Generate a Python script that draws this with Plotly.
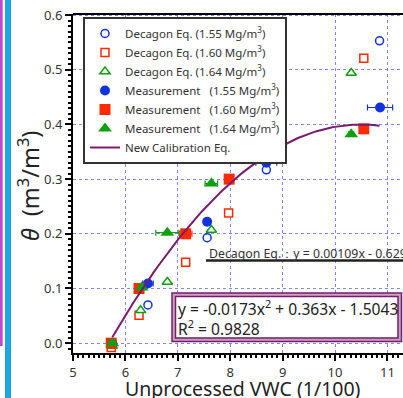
import numpy as np
import plotly.graph_objects as go

# ---------------- data ----------------
density_labels = ["1.55", "1.60", "1.64"]

# Measurement (filled markers)
meas_x_155 = [5.75, 6.43, 7.56, 8.69, 10.86]
meas_y_155 = [0.0, 0.109, 0.222, 0.330, 0.431]
meas_e_155 = [0.05, 0.10, 0.04, 0.20, 0.24]

meas_x_160 = [5.73, 6.26, 7.15, 7.98, 10.55]
meas_y_160 = [0.0, 0.100, 0.200, 0.300, 0.392]
meas_e_160 = [0.05, 0.08, 0.12, 0.08, 0.05]

meas_x_164 = [5.75, 6.31, 6.80, 7.64, 10.31]
meas_y_164 = [0.0, 0.102, 0.202, 0.292, 0.382]
meas_e_164 = [0.05, 0.05, 0.22, 0.12, 0.05]

# Decagon equation (open markers)
dec_x_155 = [5.75, 6.43, 7.56, 8.69, 10.85]
dec_y_155 = [-0.004, 0.070, 0.193, 0.317, 0.553]
dec_x_160 = [5.73, 6.26, 7.15, 7.97, 10.55]
dec_y_160 = [-0.008, 0.051, 0.148, 0.238, 0.521]
dec_x_164 = [5.75, 6.29, 6.80, 7.64, 10.31]
dec_y_164 = [-0.005, 0.060, 0.112, 0.207, 0.494]
dec_err = 0.035

# New calibration equation coefficients (from the chart)
cal_a, cal_b, cal_c = -0.0173, 0.363, -1.5043
cal_x_min, cal_x_max = 5.75, 10.85

x_ticks = [5, 6, 7, 8, 9, 10, 11]
y_ticks = [0.0, 0.1, 0.2, 0.3, 0.4, 0.5, 0.6]

# ---------------- styling ----------------
BLUE = "#1232e0"
RED = "#ff2a00"
GREEN = "#0ea010"
PURPLE = "#7a1a6a"
FONT = "Noto Sans"

W, H = 403, 398
ML, MR, MT, MB = 73, 0, 14, 45
PW, PH = W - ML - MR, H - MT - MB


def px(xpix):
    return (xpix - ML) / PW


def py(ypix):
    return (H - MB - ypix) / PH


fig = go.Figure()


def dec_trace(x, y, color, symbol, size, name):
    return go.Scatter(
        x=x, y=y, mode="markers", name=name,
        marker=dict(symbol=symbol, size=size, color="white",
                    line=dict(color=color, width=1.5)),
        error_x=dict(type="constant", value=dec_err, color=color,
                     thickness=1, width=3),
    )


def meas_trace(x, y, e, color, symbol, size, name):
    return go.Scatter(
        x=x, y=y, mode="markers", name=name,
        marker=dict(symbol=symbol, size=size, color=color,
                    line=dict(width=0)),
        error_x=dict(type="data", array=e, color=color,
                     thickness=1.2, width=3),
    )


unit = " Mg/m<sup>3</sup>)"
fig.add_trace(dec_trace(dec_x_155, dec_y_155, BLUE, "circle", 8,
                        "Decagon Eq. (" + density_labels[0] + unit))
fig.add_trace(dec_trace(dec_x_160, dec_y_160, RED, "square", 8,
                        "Decagon Eq. (" + density_labels[1] + unit))
fig.add_trace(dec_trace(dec_x_164, dec_y_164, GREEN, "triangle-up", 9,
                        "Decagon Eq. (" + density_labels[2] + unit))
fig.add_trace(meas_trace(meas_x_155, meas_y_155, meas_e_155, BLUE, "circle", 10,
                         "Measurement   (" + density_labels[0] + unit))
fig.add_trace(meas_trace(meas_x_160, meas_y_160, meas_e_160, RED, "square", 11,
                         "Measurement   (" + density_labels[1] + unit))
fig.add_trace(meas_trace(meas_x_164, meas_y_164, meas_e_164, GREEN, "triangle-up", 12,
                         "Measurement   (" + density_labels[2] + unit))

cx = np.linspace(cal_x_min, cal_x_max, 120)
cy = cal_a * cx ** 2 + cal_b * cx + cal_c
fig.add_trace(go.Scatter(x=cx, y=cy, mode="lines", name="New Calibration Eq.",
                         line=dict(color=PURPLE, width=2)))

grid = dict(showgrid=True, gridcolor="rgba(90,90,255,0.75)", gridwidth=1,
            griddash="dot")

fig.update_xaxes(
    range=[5, 5 + PW / 52.4], tickvals=x_ticks, ticks="outside", ticklen=6,
    tickwidth=1.5, tickcolor="#000", showline=True, linecolor="#000", linewidth=2,
    zeroline=False, tickfont=dict(size=13, color="#333", family=FONT),
    minor=dict(dtick=0.1, ticks="outside", ticklen=3, tickcolor="#000",
               showgrid=False),
    automargin=False,
    **grid,
)
fig.update_yaxes(
    range=[-0.018, 0.602], tickvals=y_ticks, tickformat=".1f", ticks="outside",
    ticklen=6, tickwidth=1.5, tickcolor="#000", showline=True, linecolor="#000",
    linewidth=2, zeroline=False, automargin=False,
    tickfont=dict(size=13, color="#333", family=FONT),
    minor=dict(dtick=0.01, ticks="outside", ticklen=3, tickcolor="#000",
               showgrid=False),
    **grid,
)

shapes = [
    # top frame line
    dict(type="line", xref="paper", yref="paper", x0=0, x1=1.05, y0=1, y1=1,
         line=dict(color="#000", width=2)),
    # left slide decorations
    dict(type="line", xref="paper", yref="paper", x0=px(1.3), x1=px(1.3),
         y0=py(-5), y1=py(346), line=dict(color="#c444d4", width=2.7)),
    dict(type="line", xref="paper", yref="paper", x0=px(8), x1=px(8),
         y0=py(-5), y1=py(405), line=dict(color="#1ea6e2", width=6)),
    # decagon underline
    dict(type="line", xref="paper", yref="paper", x0=px(206), x1=px(410),
         y0=py(260.5), y1=py(260.5), line=dict(color="#222", width=2.5)),
    # equation box (double purple border)
    dict(type="rect", xref="paper", yref="paper", x0=px(172), x1=px(401.5),
         y0=py(293), y1=py(341.5), fillcolor="#c7a6c4",
         line=dict(color=PURPLE, width=1.5)),
    dict(type="rect", xref="paper", yref="paper", x0=px(175.5), x1=px(398),
         y0=py(296.5), y1=py(338), fillcolor="white",
         line=dict(color=PURPLE, width=1.5)),
]

annotations = [
    dict(xref="paper", yref="paper", x=px(207), y=py(253), xanchor="left",
         yanchor="middle", showarrow=False,
         text="Decagon Eq.：y = 0.00109x - 0.629",
         font=dict(size=12.3, color="#333", family=FONT)),
    dict(xref="paper", yref="paper", x=px(176), y=py(318), xanchor="left",
         yanchor="middle", showarrow=False, align="left",
         text="y = -0.0173x<sup>2</sup> + 0.363x - 1.5043<br>R<sup>2</sup> = 0.9828",
         font=dict(size=15.6, color="#222", family=FONT)),
    dict(xref="paper", yref="paper", x=px(28), y=py(186), xanchor="center",
         yanchor="middle", showarrow=False, textangle=-90,
         text="<i>θ</i>  (m<sup>3</sup>/m<sup>3</sup>)",
         font=dict(size=23.5, color="#222", family=FONT)),
    dict(xref="paper", yref="paper", x=px(243), y=py(388), xanchor="center",
         yanchor="middle", showarrow=False,
         text="Unprocessed VWC (1/100)",
         font=dict(size=19.5, color="#222", family=FONT)),
]

fig.update_layout(
    width=W, height=H,
    margin=dict(l=ML, r=MR, t=MT, b=MB, pad=0, autoexpand=False),
    paper_bgcolor="white", plot_bgcolor="white",
    shapes=shapes, annotations=annotations,
    showlegend=True,
    legend=dict(x=px(83), y=py(17), xanchor="left", yanchor="top",
                bgcolor="white", bordercolor="#333", borderwidth=2,
                font=dict(size=11.5, color="#333", family=FONT),
                tracegroupgap=0, itemwidth=30),
    font=dict(family=FONT),
)

fig.write_html("out.html",
               config={"displayModeBar": False},
               post_script="document.body.style.margin='0px';"
                           "document.body.style.overflow='hidden';")
